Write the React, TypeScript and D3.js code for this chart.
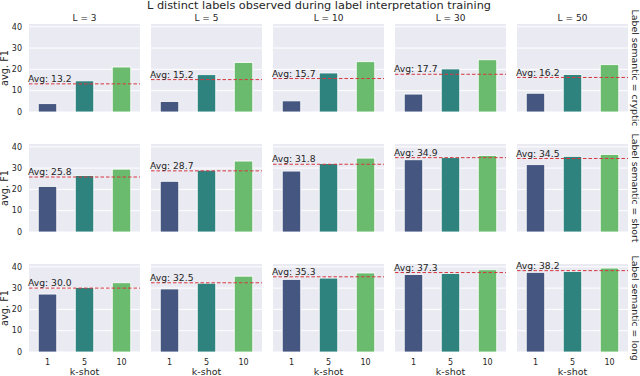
import React from 'react';
import * as d3 from 'd3';

// k-shot categories and the L facets
const kShots = ['1', '5', '10'];
const labelCounts = [3, 5, 10, 30, 50];
const semantics = ['cryptic', 'short', 'long'];

// avg. F1 per L (rows: L = 3, 5, 10, 30, 50; values: k-shot 1, 5, 10)
const crypticF1 = [
    [3.9, 14.6, 21.1],
    [4.9, 17.5, 23.2],
    [5.2, 18.3, 23.6],
    [8.4, 20.2, 24.5],
    [8.8, 17.6, 22.2],
];
const shortF1 = [
    [21.4, 26.5, 29.5],
    [23.8, 29.0, 33.3],
    [28.6, 32.1, 34.7],
    [33.9, 34.9, 35.9],
    [31.6, 35.5, 36.4],
];
const longF1 = [
    [27.2, 30.3, 32.5],
    [29.6, 32.3, 35.6],
    [34.1, 34.7, 37.1],
    [36.4, 36.9, 38.6],
    [37.4, 37.8, 39.4],
];

// averages printed in each panel
const crypticAvg = [13.2, 15.2, 15.7, 17.7, 16.2];
const shortAvg = [25.8, 28.7, 31.8, 34.9, 34.5];
const longAvg = [30.0, 32.5, 35.3, 37.3, 38.2];

const yTicks = [0, 10, 20, 30, 40];

const rowData = [crypticF1, shortF1, longF1];
const rowAvg = [crypticAvg, shortAvg, longAvg];

const W = 640;
const H = 376;
const FONT = '"DejaVu Sans", sans-serif';
const INK = '#262626';
const colors = ['#455681', '#2f837f', '#6bbb6e'];

export default function App() {
    const colX = d3.scaleBand<number>()
        .domain(labelCounts)
        .range([29, 628])
        .paddingInner(0.09);
    const rowY = d3.scaleBand<string>()
        .domain(semantics)
        .range([24, 352])
        .paddingInner(0.267);

    const pw = colX.bandwidth();
    const ph = rowY.bandwidth();

    const x = d3.scaleBand<string>()
        .domain(kShots)
        .range([0, pw])
        .paddingInner(0.5)
        .paddingOuter(0.25);
    const y = d3.scaleLinear().domain([0, 41.3]).range([ph, 0]);

    return (
        <svg width={W} height={H} style={{ position: 'absolute', left: 0, top: 0 }}
            fontFamily={FONT}>
            <rect width={W} height={H} fill="#fff" />
            <text x={319} y={9} textAnchor="middle" fontSize={11.3} fill={INK}>
                L distinct labels observed during label interpretation training
            </text>

            {semantics.map((sem, ri) => {
                const top = rowY(sem)!;
                return (
                    <g key={sem}>
                        {labelCounts.map((L, ci) => {
                            const left = colX(L)!;
                            const vals = rowData[ri][ci];
                            const avg = rowAvg[ri][ci];
                            return (
                                <g key={L} transform={`translate(${left},${top})`}>
                                    <rect width={pw} height={ph} fill="#eaeaf2" />
                                    {yTicks.map(t => (
                                        <line key={t} x1={0} x2={pw} y1={y(t)} y2={y(t)}
                                            stroke="#fff" strokeWidth={1} />
                                    ))}
                                    {vals.map((v, i) => (
                                        <rect key={i}
                                            x={x(kShots[i])}
                                            y={y(v)}
                                            width={x.bandwidth()}
                                            height={y(0) - y(v)}
                                            fill={colors[i]}
                                            stroke="#fff"
                                            strokeWidth={0.8} />
                                    ))}
                                    <line x1={0} x2={pw} y1={y(avg)} y2={y(avg)}
                                        stroke="#d6373f" strokeWidth={1}
                                        strokeDasharray="3.5,2" />
                                    <text x={-1} y={y(avg) - 1.8} fontSize={9.2} fill={INK}>
                                        {`Avg: ${avg.toFixed(1)}`}
                                    </text>
                                    {ri === 0 && (
                                        <text x={pw / 2} y={-3.5} textAnchor="middle"
                                            fontSize={9} fill={INK}>
                                            {`L = ${L}`}
                                        </text>
                                    )}
                                    {ci === 0 && yTicks.map(t => (
                                        <text key={t} x={-7} y={y(t)} dy="0.34em"
                                            textAnchor="end" fontSize={8} fill={INK}>
                                            {t}
                                        </text>
                                    ))}
                                    {ci === 0 && (
                                        <text transform={`translate(-21,${ph / 2}) rotate(-90)`}
                                            textAnchor="middle" fontSize={9.8} fill={INK}>
                                            avg. F1
                                        </text>
                                    )}
                                    {ri === semantics.length - 1 && kShots.map(k => (
                                        <text key={k} x={x(k)! + x.bandwidth() / 2} y={ph + 13}
                                            textAnchor="middle" fontSize={8} fill={INK}>
                                            {k}
                                        </text>
                                    ))}
                                    {ri === semantics.length - 1 && (
                                        <text x={pw / 2} y={ph + 23.5} textAnchor="middle"
                                            fontSize={9.5} fill={INK}>
                                            k-shot
                                        </text>
                                    )}
                                </g>
                            );
                        })}
                        <text transform={`translate(632,${top + ph / 2}) rotate(90)`}
                            textAnchor="middle" fontSize={9.4} fill={INK}>
                            {`Label semantic = ${sem}`}
                        </text>
                    </g>
                );
            })}
        </svg>
    );
}
